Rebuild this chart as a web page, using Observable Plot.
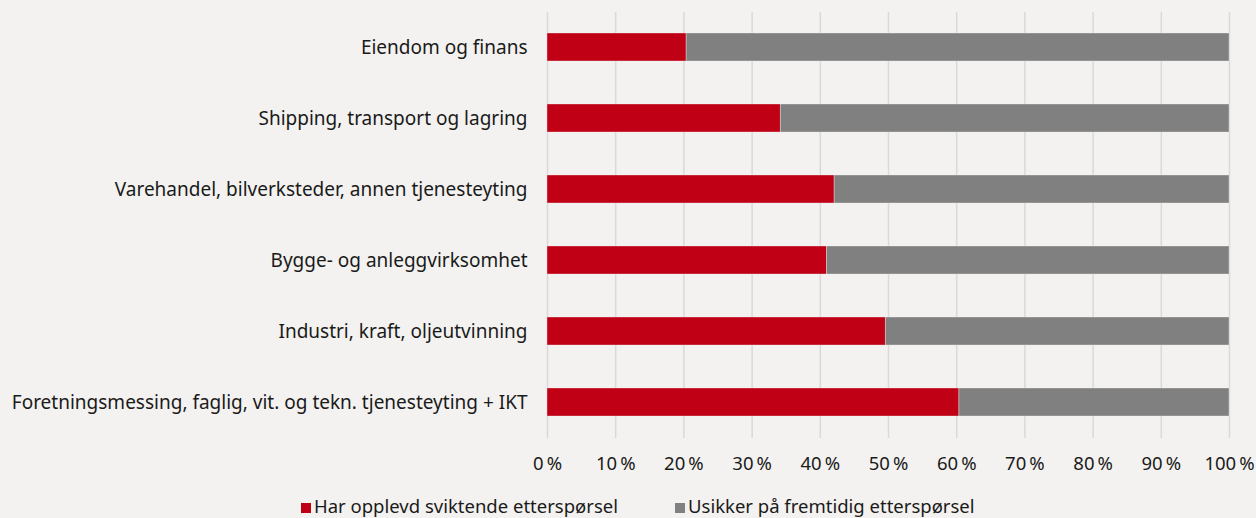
<!DOCTYPE html>
<html>
<head>
<meta charset="utf-8">
<script src="https://cdn.jsdelivr.net/npm/d3@7"></script>
<script src="https://cdn.jsdelivr.net/npm/@observablehq/plot@0.6"></script>
<style>
  html, body { margin: 0; padding: 0; background: #f3f2f0; }
  body { width: 1256px; height: 518px; overflow: hidden; font-family: "Noto Sans", sans-serif; color: #1a1a1a; }
  #legend { position: relative; height: 28px; font-size: 18.5px; }
  .item { position: absolute; top: 3px; white-space: nowrap; line-height: 25px; }
  .sw { width: 10px; height: 10px; margin-right: 3px; display: inline-block; vertical-align: baseline; }
  svg g[aria-label="y-axis tick label"] text { font-size: 19px; }
</style>
</head>
<body>
<div id="chart"></div>
<div id="legend"></div>
<script>
const sectors = [
  "Eiendom og finans",
  "Shipping, transport og lagring",
  "Varehandel, bilverksteder, annen tjenesteyting",
  "Bygge- og anleggvirksomhet",
  "Industri, kraft, oljeutvinning",
  "Foretningsmessing, faglig, vit. og tekn. tjenesteyting + IKT"
];
const seriesNames = ["Har opplevd sviktende etterspørsel", "Usikker på fremtidig etterspørsel"];
const sviktende = [20.4, 34.2, 42.1, 41.0, 49.6, 60.4];
const usikker = sviktende.map(v => 100 - v);
const xTicks = [0, 10, 20, 30, 40, 50, 60, 70, 80, 90, 100];
const colors = ["#c00015", "#808080"];

const data = [];
sectors.forEach((s, i) => {
  data.push({sector: s, series: seriesNames[0], value: sviktende[i]});
  data.push({sector: s, series: seriesNames[1], value: usikker[i]});
});

const chart = Plot.plot({
  width: 1256,
  height: 490,
  marginTop: 12,
  marginBottom: 52,
  marginLeft: 547,
  marginRight: 27,
  style: {background: "#f3f2f0", fontFamily: "Noto Sans, sans-serif", fontSize: "18.5px", color: "#1a1a1a"},
  x: {domain: [0, 100], ticks: xTicks, tickFormat: d => d + "\u2009%", tickSize: 0, tickPadding: 18, label: null},
  y: {domain: sectors, paddingInner: 0.6, paddingOuter: 0.3, tickSize: 0, tickPadding: 20, label: null},
  color: {domain: seriesNames, range: colors},
  marks: [
    Plot.ruleX(xTicks, {stroke: "#d9d9d9", strokeWidth: 1.5}),
    Plot.barX(data, {x: "value", y: "sector", fill: "series", stroke: "#f3f2f0", strokeWidth: 0.6, strokeOpacity: 0.6})
  ]
});
document.getElementById("chart").appendChild(chart);

const legend = document.getElementById("legend");
const legendX = [301, 675];
seriesNames.forEach((name, i) => {
  const it = document.createElement("div");
  it.className = "item";
  it.style.left = legendX[i] + "px";
  const sw = document.createElement("span");
  sw.className = "sw";
  sw.style.background = colors[i];
  const t = document.createElement("span");
  t.textContent = name;
  it.appendChild(sw);
  it.appendChild(t);
  legend.appendChild(it);
});
</script>
</body>
</html>
